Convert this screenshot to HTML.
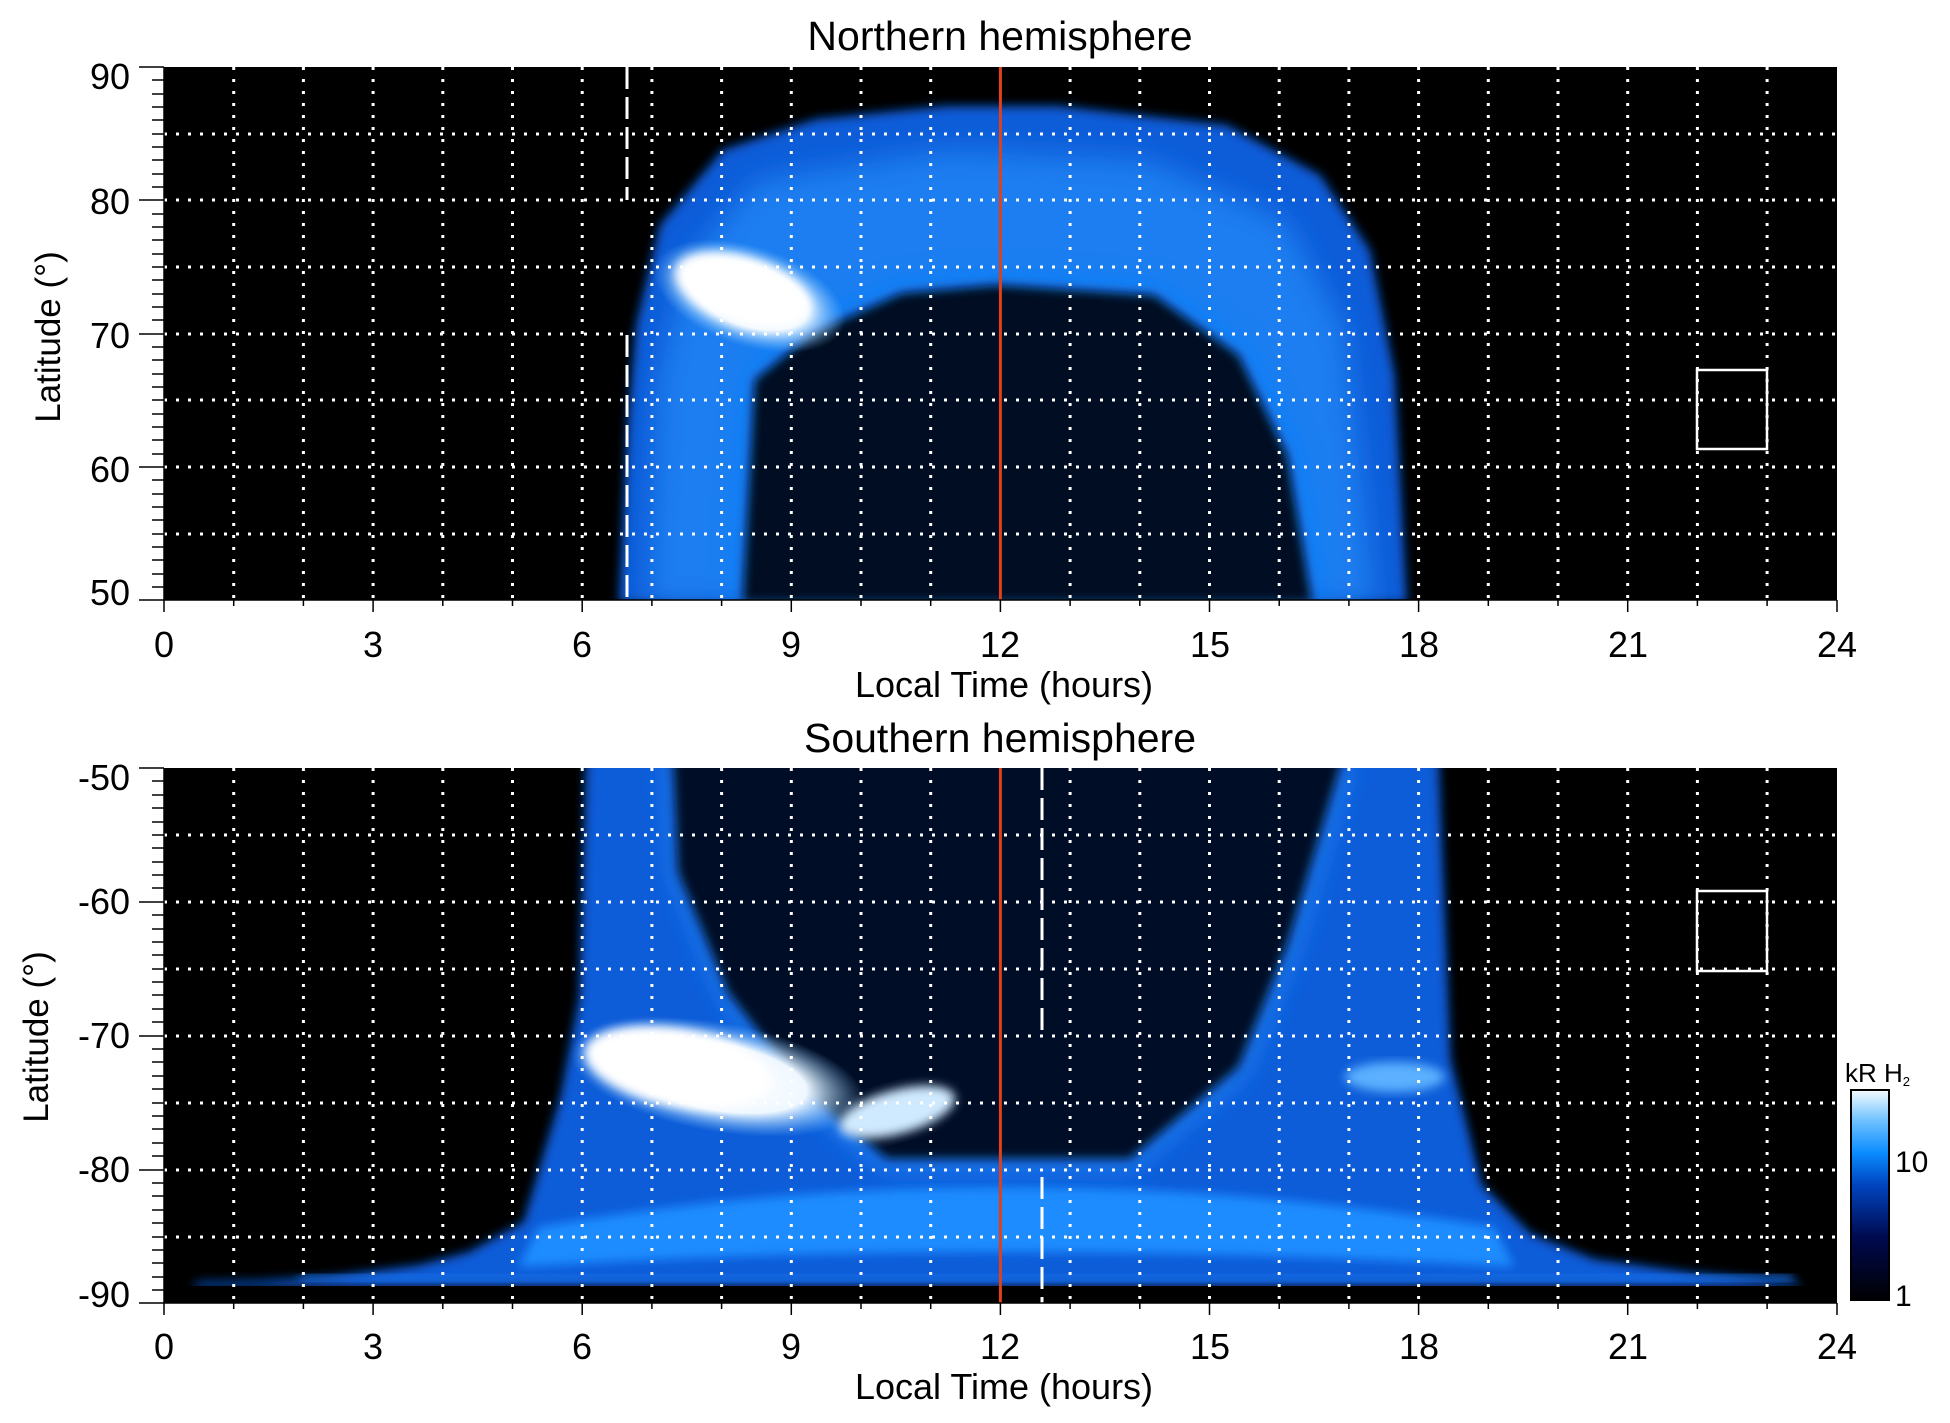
<!DOCTYPE html>
<html><head><meta charset="utf-8"><style>
body{margin:0;background:#fff;}
svg{display:block;font-family:"Liberation Sans",sans-serif;}
</style></head><body>
<svg width="1950" height="1423" viewBox="0 0 1950 1423" xmlns="http://www.w3.org/2000/svg">
<defs>
<filter id="b" x="-20%" y="-20%" width="140%" height="140%"><feGaussianBlur stdDeviation="5"/></filter>
<filter id="b2" x="-30%" y="-30%" width="160%" height="160%"><feGaussianBlur stdDeviation="14"/></filter>
<linearGradient id="cb" x1="0" y1="1" x2="0" y2="0">
<stop offset="0" stop-color="#000"/><stop offset="0.3" stop-color="#000a50"/><stop offset="0.55" stop-color="#0045c0"/><stop offset="0.7" stop-color="#0a8cff"/><stop offset="0.85" stop-color="#6cc0ff"/><stop offset="1" stop-color="#f4fbff"/>
</linearGradient>
<radialGradient id="ws"><stop offset="0" stop-color="#fff"/><stop offset="0.6" stop-color="#f0f8ff"/><stop offset="1" stop-color="#7cc4ff" stop-opacity="0"/></radialGradient>
<clipPath id="c1"><rect x="164" y="67" width="1673" height="533"/></clipPath>
<clipPath id="c2"><rect x="164" y="771" width="1673" height="518"/></clipPath>
</defs>

<!-- TOP PANEL -->
<rect x="164" y="67" width="1673" height="533" fill="#000"/>
<g clip-path="url(#c1)">
<g transform="translate(164,0) scale(0.9958,1) translate(-164,0)">
 <path d="M621,603 L630,420 638,325 662,225 725,150 819,119 950,106 1062,106 1231,125 1325,175 1375,250 1400,375 1412,603 Z" fill="#0a5cd8" filter="url(#b)"/>
 <path d="M650,603 L660,380 690,260 760,180 950,150 1150,160 1290,220 1350,330 1380,603 Z" fill="#1a7ef0" filter="url(#b2)"/>
 <path d="M737,603 L750,375 812,325 900,285 1000,277 1162,287 1250,350 1300,450 1325,603 Z" fill="#0f80ff" filter="url(#b2)" opacity="0.8"/>
 <path d="M745,603 L757,380 815,333 905,293 1000,285 1158,295 1243,355 1292,455 1317,603 Z" fill="#020820" filter="url(#b)"/>
 <ellipse cx="752" cy="296" rx="100" ry="50" transform="rotate(18 752 296)" fill="url(#ws)"/>
 <ellipse cx="745" cy="290" rx="70" ry="32" transform="rotate(18 745 290)" fill="#fff" filter="url(#b)"/>
</g>
</g>
<g stroke="#fff" stroke-width="3" stroke-dasharray="3 9" fill="none">
 <path d="M233.7,67V600M303.4,67V600M373.1,67V600M442.8,67V600M512.5,67V600M582.2,67V600M651.9,67V600M721.6,67V600M791.3,67V600M861,67V600M930.7,67V600M1070.1,67V600M1139.8,67V600M1209.5,67V600M1279.2,67V600M1348.9,67V600M1418.6,67V600M1488.3,67V600M1558,67V600M1627.7,67V600M1697.4,67V600M1767.1,67V600"/>
 <path d="M164,134H1837M164,200H1837M164,267H1837M164,334H1837M164,400H1837M164,467H1837M164,534H1837"/>
</g>
<path d="M627,67V200M627,335V600" stroke="#fff" stroke-width="3" stroke-dasharray="22 8"/>
<line x1="1000.4" y1="67" x2="1000.4" y2="600" stroke="#e0401a" stroke-width="3"/>
<rect x="1697" y="370" width="70" height="79" fill="none" stroke="#fff" stroke-width="2.5"/>
<g stroke="#000" stroke-width="1.5" fill="none">
 <line x1="164" y1="67" x2="164" y2="600"/><line x1="164" y1="600" x2="1837" y2="600"/>
</g>
<text x="1000" y="50" font-size="41" text-anchor="middle">Northern hemisphere</text>
<g font-size="36" text-anchor="end">
 <text x="130" y="89">90</text><text x="130" y="214">80</text><text x="130" y="348">70</text><text x="130" y="482">60</text><text x="130" y="605">50</text>
</g>
<g font-size="36" text-anchor="middle">
 <text x="164" y="657">0</text><text x="373" y="657">3</text><text x="582" y="657">6</text><text x="791" y="657">9</text><text x="1000" y="657">12</text><text x="1210" y="657">15</text><text x="1419" y="657">18</text><text x="1628" y="657">21</text><text x="1837" y="657">24</text>
 <text x="1004" y="697">Local Time (hours)</text>
</g>
<text transform="translate(60,337) rotate(-90)" font-size="35" text-anchor="middle">Latitude (°)</text>

<!-- BOTTOM PANEL -->
<g transform="translate(0,-3)">
<rect x="164" y="771" width="1673" height="535" fill="#000"/>
<g clip-path="url(#c2)">
<g transform="translate(164,0) scale(0.9958,1) translate(-164,0)">
 <path d="M588,760 L581,1000 562,1100 525,1225 470,1255 420,1268 330,1280 260,1284 200,1285 190,1290 1810,1290 1800,1285 1700,1276 1600,1262 1537,1237 1487,1187 1456,1062 1444,760 Z" fill="#0a5cd8" filter="url(#b)"/>
 <path d="M540,1230 Q1000,1150 1500,1230 L1520,1270 Q1000,1240 520,1270 Z" fill="#1a8cff" filter="url(#b)"/>
 <path d="M669,760 L675,875 725,1000 800,1100 887,1171 1137,1171 1250,1075 1300,950 1356,760 Z" fill="#1a80f5" filter="url(#b2)"/>
 <path d="M675,760 L680,875 730,995 805,1092 890,1162 1134,1162 1243,1070 1292,948 1348,760 Z" fill="#020a28" filter="url(#b)"/>
 <ellipse cx="720" cy="1080" rx="150" ry="55" transform="rotate(10 720 1080)" fill="url(#ws)"/>
 <ellipse cx="680" cy="1070" rx="95" ry="38" transform="rotate(10 680 1070)" fill="#fff" filter="url(#b)"/>
 <ellipse cx="900" cy="1115" rx="60" ry="22" transform="rotate(-15 900 1115)" fill="#cfe9ff" filter="url(#b)"/>
 <ellipse cx="1400" cy="1080" rx="50" ry="15" fill="#5cb0ff" filter="url(#b)"/>
 <rect x="300" y="1278" width="1500" height="6" fill="#1a70e8" filter="url(#b)"/>
</g>
</g>
<g stroke="#fff" stroke-width="3" stroke-dasharray="3 9" fill="none">
 <path d="M233.7,771V1306M303.4,771V1306M373.1,771V1306M442.8,771V1306M512.5,771V1306M582.2,771V1306M651.9,771V1306M721.6,771V1306M791.3,771V1306M861,771V1306M930.7,771V1306M1070.1,771V1306M1139.8,771V1306M1209.5,771V1306M1279.2,771V1306M1348.9,771V1306M1418.6,771V1306M1488.3,771V1306M1558,771V1306M1627.7,771V1306M1697.4,771V1306M1767.1,771V1306"/>
 <path d="M164,838H1837M164,905H1837M164,972H1837M164,1039H1837M164,1106H1837M164,1173H1837M164,1240H1837"/>
</g>
<path d="M1042,771V1039M1042,1180V1306" stroke="#fff" stroke-width="3" stroke-dasharray="22 8"/>
<line x1="1000.4" y1="771" x2="1000.4" y2="1306" stroke="#e0401a" stroke-width="3"/>
<rect x="1697" y="894" width="70" height="80" fill="none" stroke="#fff" stroke-width="2.5"/>
<g stroke="#000" stroke-width="1.5" fill="none">
 <line x1="164" y1="771" x2="164" y2="1306"/><line x1="164" y1="1306" x2="1837" y2="1306"/>
</g>
<text x="1000" y="755" font-size="41" text-anchor="middle">Southern hemisphere</text>
<g font-size="36" text-anchor="end">
 <text x="130" y="793">-50</text><text x="130" y="917">-60</text><text x="130" y="1051">-70</text><text x="130" y="1185">-80</text><text x="130" y="1310">-90</text>
</g>
<g font-size="36" text-anchor="middle">
 <text x="164" y="1362">0</text><text x="373" y="1362">3</text><text x="582" y="1362">6</text><text x="791" y="1362">9</text><text x="1000" y="1362">12</text><text x="1210" y="1362">15</text><text x="1419" y="1362">18</text><text x="1628" y="1362">21</text><text x="1837" y="1362">24</text>
 <text x="1004" y="1402">Local Time (hours)</text>
</g>
<text transform="translate(48,1040) rotate(-90)" font-size="35" text-anchor="middle">Latitude (°)</text>
<g stroke="#000" stroke-width="1.5">
 <path d="M139,771H164M152,784H164M152,798H164M152,811H164M152,825H164M152,838H164M152,851H164M152,865H164M152,878H164M152,891H164M139,905H164M152,918H164M152,932H164M152,945H164M152,958H164M152,972H164M152,985H164M152,998H164M152,1012H164M152,1025H164M139,1039H164M152,1052H164M152,1065H164M152,1079H164M152,1092H164M152,1106H164M152,1119H164M152,1132H164M152,1146H164M152,1159H164M139,1173H164M152,1186H164M152,1199H164M152,1213H164M152,1226H164M152,1240H164M152,1253H164M152,1266H164M152,1280H164M152,1293H164M139,1306H164"/>
 <path d="M164,1306v12M373.1,1306v12M582.2,1306v12M791.3,1306v12M1000.4,1306v12M1209.5,1306v12M1418.6,1306v12M1627.7,1306v12M1837,1306v12M233.7,1306v6M303.4,1306v6M442.8,1306v6M512.5,1306v6M651.9,1306v6M721.6,1306v6M861,1306v6M930.7,1306v6M1070.1,1306v6M1139.8,1306v6M1279.2,1306v6M1348.9,1306v6M1488.3,1306v6M1558,1306v6M1697.4,1306v6M1767.1,1306v6"/>
</g>
</g>

<!-- top ticks -->
<g stroke="#000" stroke-width="1.5">
 <path d="M139,67H164M152,80H164M152,94H164M152,107H164M152,120H164M152,134H164M152,147H164M152,160H164M152,174H164M152,187H164M139,200H164M152,214H164M152,227H164M152,240H164M152,254H164M152,267H164M152,280H164M152,294H164M152,307H164M152,320H164M139,334H164M152,347H164M152,360H164M152,374H164M152,387H164M152,400H164M152,414H164M152,427H164M152,440H164M152,454H164M139,467H164M152,480H164M152,494H164M152,507H164M152,520H164M152,534H164M152,547H164M152,560H164M152,574H164M152,587H164M139,600H164"/>
 <path d="M164,600v12M373.1,600v12M582.2,600v12M791.3,600v12M1000.4,600v12M1209.5,600v12M1418.6,600v12M1627.7,600v12M1837,600v12M233.7,600v6M303.4,600v6M442.8,600v6M512.5,600v6M651.9,600v6M721.6,600v6M861,600v6M930.7,600v6M1070.1,600v6M1139.8,600v6M1279.2,600v6M1348.9,600v6M1488.3,600v6M1558,600v6M1697.4,600v6M1767.1,600v6"/>
</g>

<!-- colorbar -->
<rect x="1851" y="1090" width="38" height="210" fill="url(#cb)" stroke="#000" stroke-width="2"/>
<text x="1845" y="1082" font-size="26">kR H<tspan font-size="13" dy="4">2</tspan></text>
<text x="1895" y="1172" font-size="30">10</text>
<text x="1895" y="1306" font-size="30">1</text>
</svg>
</body></html>
